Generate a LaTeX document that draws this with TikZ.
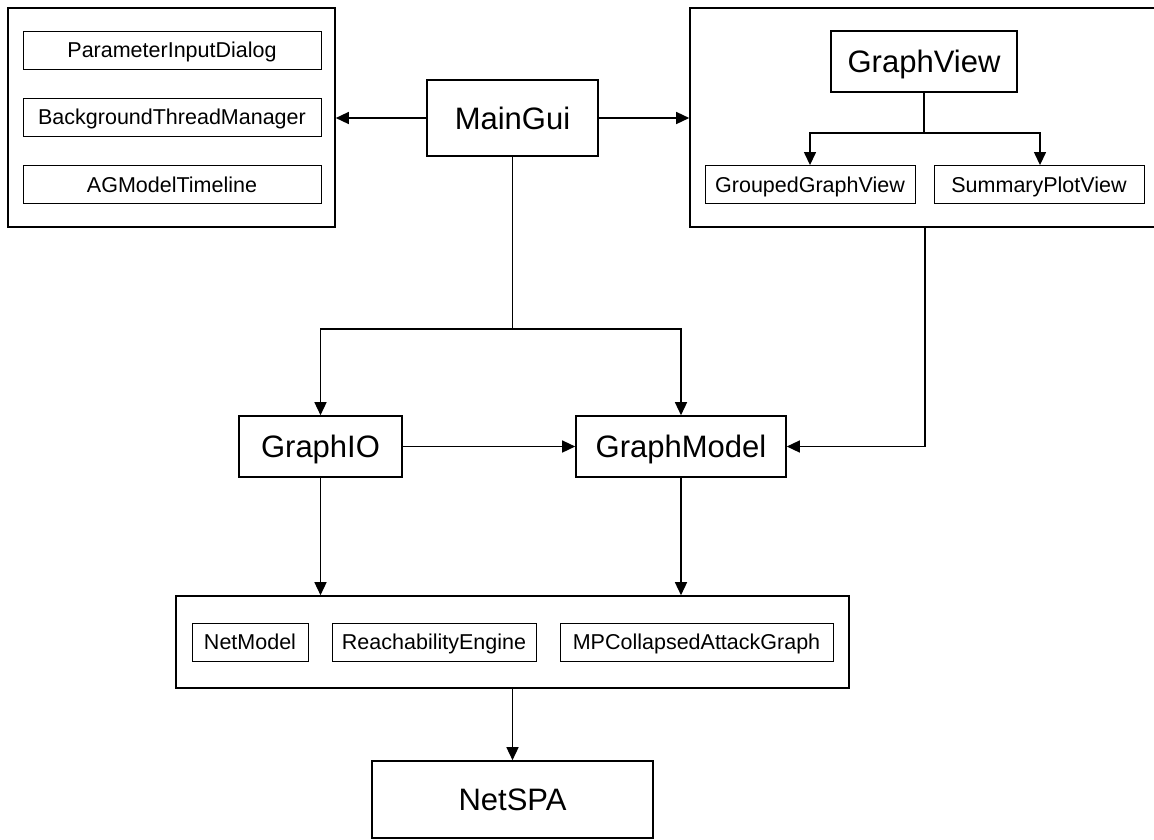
\documentclass[tikz,border=0pt]{standalone}
\usepackage{fontspec}
\setmainfont{Liberation Sans}
\usetikzlibrary{positioning,arrows.meta}
\tikzset{
  grp/.style={draw, line width=1.6pt, inner sep=0pt},
  bigcls/.style={draw, line width=1.6pt, inner sep=0pt, text height=22.2pt, text depth=0pt,
                 font=\fontsize{31}{36}\selectfont},
  cls/.style={draw, line width=0.9pt, inner sep=0pt, minimum height=38pt, text height=15.4pt, text depth=0pt,
              font=\fontsize{21.5}{25}\selectfont},
  conn/.style={line width=1.4pt, -{Triangle[length=13pt,width=12pt]}}
}

\begin{document}
\begin{tikzpicture}[x=1pt,y=-1pt]
      \useasboundingbox (0,0) rectangle (1154,839);
      % group boxes
      \node[grp, minimum width=327pt, minimum height=219pt] (guigrp) at (171.5,117.5) {};
      \node[grp, minimum width=470pt, minimum height=219pt] (viewgrp) at (925,117.5) {};
      \node[grp, minimum width=673pt, minimum height=92pt] (netgrp) at (512.5,642) {};
      % classes
      \node[cls, minimum width=298pt] (pid) at (172,50) {ParameterInputDialog};
      \node[cls, minimum width=298pt] (btm) at (172,117) {BackgroundThreadManager};
      \node[cls, minimum width=298pt] (agt) at (172,184.5) {AGModelTimeline};
      \node[bigcls, minimum width=171pt, minimum height=76pt] (gui) at (512.5,118) {MainGui};
      \node[bigcls, minimum width=186pt, minimum height=61pt] (gview) at (924,61.5) {GraphView};
      \node[cls, minimum width=210pt] (grouped) at (810,184.5) {GroupedGraphView};
      \node[cls, minimum width=210pt] (summary) at (1039,184.5) {SummaryPlotView};
      \node[bigcls, minimum width=163pt, minimum height=61pt] (gio) at (320.5,446.5) {GraphIO};
      \node[bigcls, minimum width=210pt, minimum height=61pt] (gmodel) at (681,446.5) {GraphModel};
      \node[cls, minimum width=116pt] (netmodel) at (250,642) {NetModel};
      \node[cls, minimum width=204pt] (reach) at (434,642) {ReachabilityEngine};
      \node[cls, minimum width=273pt] (mpc) at (696.5,642) {MPCollapsedAttackGraph};
      \node[bigcls, minimum width=281pt, minimum height=77pt] (netspa) at (512.5,799.5) {NetSPA};
      % connectors
      \coordinate (split) at (512.5,329);
      \coordinate (vsplit) at (924,133);
      \draw[conn] (gui.west) -- (gui.west -| guigrp.east);
      \draw[conn] (gui.east) -- (gui.east -| viewgrp.west);
      \draw[line width=1.4pt] (gui.south) -- (split);
      \draw[conn] (split) -| (gio.north);
      \draw[conn] (split) -| (gmodel.north);
      \draw[line width=1.4pt] (gview.south) -- (vsplit);
      \draw[conn] (vsplit) -| (grouped.north);
      \draw[conn] (vsplit) -| ([xshift=1pt]summary.north);
      \draw[conn] (gio.east) -- (gmodel.west);
      \draw[conn] (viewgrp.south) |- (gmodel.east);
      \draw[conn] (gio.south) -- (gio.south |- netgrp.north);
      \draw[conn] (gmodel.south) -- (gmodel.south |- netgrp.north);
      \draw[conn] (netgrp.south) -- (netspa.north);
\end{tikzpicture}
\end{document}
